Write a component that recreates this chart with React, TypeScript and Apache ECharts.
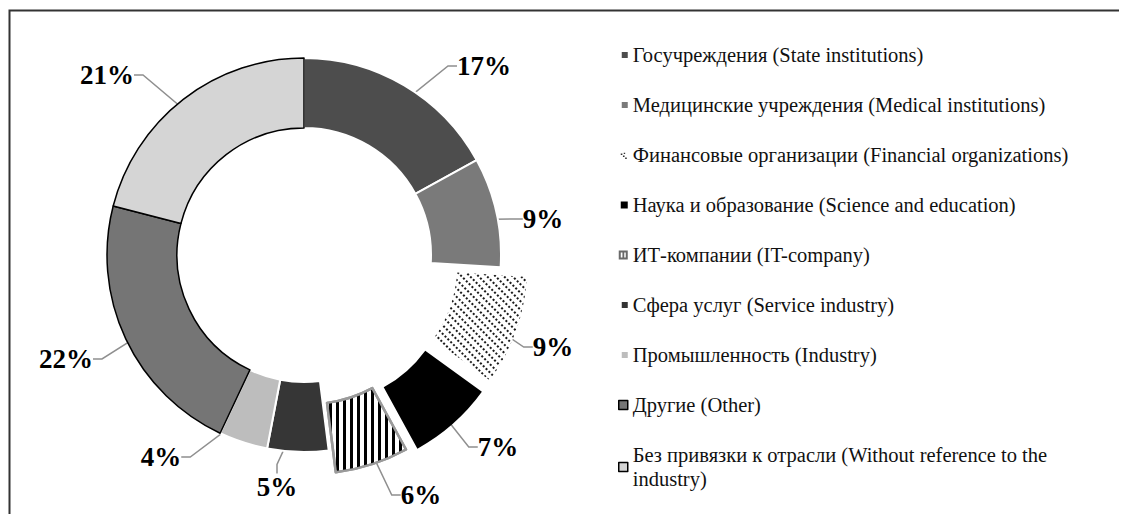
import React, { useEffect, useRef } from "react";
import * as echarts from "echarts";

// ---- data ----
const categories = [
  "Госучреждения (State institutions)",
  "Медицинские учреждения (Medical institutions)",
  "Финансовые организации (Financial organizations)",
  "Наука и образование (Science and education)",
  "ИТ-компании (IT-company)",
  "Сфера услуг (Service industry)",
  "Промышленность (Industry)",
  "Другие (Other)",
  "Без привязки к отрасли (Without reference to the industry)",
];
const shares = [17, 9, 9, 7, 6, 5, 4, 22, 21];
const explodeBy = [0, 0, 28, 28, 23, 0, 0, 0, 0];

// ---- styles ----
const sliceFill = ["#4d4d4d", "#7a7a7a", "#ffffff", "#000000", "#ffffff", "#363636", "#bdbdbd", "#757575", "#d5d5d5"];
const sliceBorder = ["#ffffff", "#ffffff", "#ffffff", "#ffffff", "#9a9a9a", "#ffffff", "#ffffff", "#000000", "#000000"];
const sliceBorderWidth = [2, 2, 0, 0, 2.5, 2, 2, 1.5, 1.5];

// label placement (layout)
const labelCenters: [number, number][] = [
  [484, 66],
  [543, 219],
  [553, 347],
  [498, 447],
  [421, 495],
  [277, 487],
  [161, 457],
  [66, 359],
  [107, 75],
];

const SMALL = "path://M0,0M9,9M3,1.5h6v6h-6z";
const FULL = "path://M0,0h9v9h-9z";
const legendIcon = [
  SMALL,
  SMALL,
  "path://M0,0M9,9M2,3h1.6v1.6h-1.6zM4.2,5h1.6v1.6h-1.6zM6.4,7h1.6v1.6h-1.6zM5,2.2h1.4v1.4h-1.4z",
  "path://M0,0M9,9M2,1h7v7h-7z",
  "path://M0,0h9v9h-9zM2,2v5h5v-5zM3.7,2h1.8v5h-1.8z",
  SMALL,
  SMALL,
  FULL,
  FULL,
];
const legendFill = ["#4d4d4d", "#7a7a7a", "#333333", "#000000", "#6a6a6a", "#333333", "#bdbdbd", "#757575", "#d5d5d5"];
const legendBorderWidth = [0, 0, 0, 0, 0, 0, 0, 1.5, 1.5];

export default function App() {
  const ref = useRef<HTMLDivElement>(null);

  useEffect(() => {
    if (!ref.current) return;
    const chart = echarts.init(ref.current, null, { renderer: "svg" });

    const C = [304, 255];
    const R0 = 127;
    const R1 = 197;
    const RL = 162;
    const total = shares.reduce((a, b) => a + b, 0);
    let acc = 0;
    const mids = shares.map((v) => {
      const m = ((acc + v / 2) / total) * Math.PI * 2;
      acc += v;
      return m;
    });

    const decals: Record<number, any> = {
      2: {
        symbol: "rect",
        symbolSize: 1,
        color: "#1a1a1a",
        dashArrayX: [2, 1.2],
        dashArrayY: [1.4, 3.6],
        rotation: Math.PI / 4,
      },
      4: {
        symbol: "rect",
        symbolSize: 1,
        color: "#000000",
        dashArrayX: [3, 3.6],
        dashArrayY: [10, 0],
        rotation: 0,
      },
    };

    const hidden = { color: "rgba(0,0,0,0)", borderWidth: 0 };

    const groups: { center: number[]; members: number[] }[] = [
      { center: C, members: shares.map((_, i) => i).filter((i) => explodeBy[i] === 0) },
    ];
    explodeBy.forEach((off, i) => {
      if (off > 0) {
        groups.push({
          center: [C[0] + off * Math.sin(mids[i]), C[1] - off * Math.cos(mids[i])],
          members: [i],
        });
      }
    });

    const common = {
      type: "pie",
      startAngle: 90,
      clockwise: true,
      silent: true,
      avoidLabelOverlap: false,
      emphasis: { disabled: true },
      selectedMode: false,
    };

    const series: any[] = [];
    groups.forEach((g) => {
      series.push({
        ...common,
        center: g.center,
        radius: [R0, R1],
        label: { show: false },
        labelLine: { show: false },
        data: categories.map((name, i) => ({
          name,
          value: shares[i],
          itemStyle: g.members.includes(i)
            ? {
                color: sliceFill[i],
                borderColor: sliceBorder[i],
                borderWidth: sliceBorderWidth[i],
                decal: decals[i] || "none",
              }
            : hidden,
        })),
      });
      series.push({
        ...common,
        center: g.center,
        radius: [R0, RL],
        itemStyle: hidden,
        label: {
          show: true,
          position: "outside",
          formatter: "{c}%",
          fontFamily: "Liberation Serif",
          fontWeight: "bold",
          fontSize: 27,
          color: "#000",
        },
        labelLine: {
          show: true,
          length: 10,
          length2: 9,
          lineStyle: { color: "#8f8f8f", width: 1.5 },
        },
        labelLayout: (p: any) => {
          const [x, y] = labelCenters[p.dataIndex];
          return { x, y, align: "center", verticalAlign: "middle" };
        },
        data: categories.map((name, i) => {
          const on = g.members.includes(i);
          return {
            name,
            value: shares[i],
            itemStyle: hidden,
            label: { show: on },
            labelLine: { show: on },
          };
        }),
      });
    });

    const lastName = categories[categories.length - 1];

    chart.setOption({
      animation: false,
      backgroundColor: "#ffffff",
      legend: {
        orient: "vertical",
        left: 613,
        top: 38,
        itemWidth: 9,
        itemHeight: 9,
        itemGap: 26,
        selectedMode: false,
        formatter: (name: string) =>
          name === lastName ? name.replace(" industry)", "\nindustry)") : name,
        textStyle: {
          fontFamily: "Liberation Serif",
          fontSize: 20.5,
          lineHeight: 24,
          color: "#111111",
        },
        data: categories.map((name, i) => ({
          name,
          icon: legendIcon[i],
          itemStyle: {
            color: legendFill[i],
            borderColor: "#000000",
            borderWidth: legendBorderWidth[i],
            decal: "none",
          },
        })),
      },
      graphic: [
        {
          type: "polyline",
          silent: true,
          shape: {
            points: [
              [9.5, 520],
              [9.5, 10.5],
              [1119, 10.5],
            ],
          },
          style: { stroke: "#333333", lineWidth: 2, fill: null },
        },
      ],
      series,
    });

    return () => chart.dispose();
  }, []);

  return (
    <div
      ref={ref}
      style={{ position: "absolute", left: 0, top: 0, width: 1128, height: 514, background: "#fff" }}
    />
  );
}
